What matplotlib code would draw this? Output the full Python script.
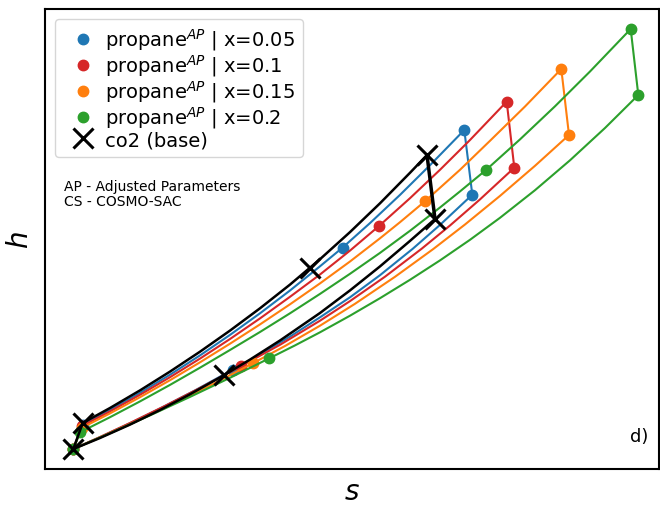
import matplotlib
matplotlib.use("Agg")
import matplotlib.pyplot as plt

# cycle states 1..6 (s, h) and the two isobars of each cycle
# co2 (base)
co2_state_s = [73.3, 82.7, 310.0, 427.0, 435.0, 224.3]
co2_state_h = [50.0, 76.0, 231.3, 344.0, 280.0, 124.0]
co2_up_s = [82.7, 110, 140, 170, 200, 230, 260, 290, 320, 350, 380, 410, 427]
co2_up_h = [76.0, 91.0, 108.6, 127.4, 147.3, 168.4, 190.7, 214.4, 239.8, 266.9, 295.7, 326.2, 344.0]
co2_low_s = [435, 410, 380, 350, 320, 280, 250, 224.3, 190, 160, 130, 100, 73.3]
co2_low_h = [280.0, 258.1, 232.6, 208.6, 186.0, 158.5, 139.4, 124.0, 104.7, 89.0, 74.4, 61.0, 50.0]

# propane AP, x=0.05
p05_state_s = [73.3, 82.5, 342.7, 464.3, 472.3, 233.0]
p05_state_h = [50.0, 74.5, 251.5, 369.0, 304.3, 129.5]
p05_up_s = [82.5, 110, 140, 170, 200, 230, 260, 290, 320, 342.7, 370, 400, 430, 464.3]
p05_up_h = [74.5, 89.1, 106.1, 124.3, 143.6, 164.1, 185.7, 208.5, 232.7, 251.5, 275.9, 304.1, 333.8, 369.0]
p05_low_s = [472.3, 440, 412.7, 380, 350, 320, 290, 260, 233, 195, 160, 130, 100, 73.3]
p05_low_h = [304.3, 274.1, 250.2, 223.8, 201.7, 181.7, 162.4, 144.5, 129.5, 108.6, 90.5, 75.8, 61.8, 50.0]

# propane AP, x=0.1
p10_state_s = [73.3, 82.0, 379.0, 506.7, 514.3, 240.7]
p10_state_h = [50.0, 73.0, 273.0, 397.4, 331.3, 132.7]
p10_up_s = [82, 110, 140, 170, 200, 230, 260, 290, 320, 350, 379, 410, 440, 470, 506.7]
p10_up_h = [73.0, 87.6, 104.2, 121.8, 140.4, 160.0, 180.6, 202.2, 224.5, 248.4, 273.0, 300.8, 329.2, 359.0, 397.4]
p10_low_s = [514.3, 480, 450, 421.7, 385, 350, 320, 280, 240.7, 200, 165, 130, 100, 73.3]
p10_low_h = [331.3, 299.6, 273.5, 250.3, 222.3, 197.9, 178.3, 154.2, 132.7, 111.0, 93.1, 76.0, 62.0, 50.0]

# propane AP, x=0.15
p15_state_s = [73.3, 81.5, 425.3, 561.3, 569.0, 253.3]
p15_state_h = [50.0, 71.0, 298.0, 430.0, 364.0, 136.0]
p15_up_s = [81.5, 110, 140, 170, 200, 230, 260, 290, 320, 350, 380, 400, 425.3, 460, 490, 525, 561.3]
p15_up_h = [71.0, 85.6, 101.8, 118.8, 136.7, 155.3, 174.6, 194.7, 215.6, 237.5, 260.7, 276.8, 298.0,
            329.2, 358.2, 392.5, 430.0]
p15_low_s = [569, 535, 500, 465, 433.3, 395, 355, 320, 285, 253.3, 210, 170, 135, 100, 73.3]
p15_low_h = [364.0, 333.2, 303.1, 274.5, 250.0, 222.2, 195.2, 173.3, 153.0, 136.0, 113.4, 93.6, 77.1,
             61.4, 50.0]

# propane AP, x=0.2
p20_state_s = [73.3, 80.0, 486.0, 630.7, 638.3, 269.3]
p20_state_h = [50.0, 66.7, 329.0, 470.0, 404.0, 140.7]
p20_up_s = [80, 110, 140, 170, 200, 230, 260, 290, 320, 350, 380, 410, 440, 460, 486, 520, 555, 590,
            630.7]
p20_up_h = [66.7, 81.8, 97.6, 114.1, 131.3, 149.0, 167.0, 185.7, 205.1, 225.2, 246.1, 268.2, 291.5,
            307.6, 329.0, 359.6, 392.7, 427.5, 470.0]
p20_low_s = [638.3, 605, 570, 535, 500, 470, 440, 410, 380, 350, 320, 295, 269.3, 230, 190, 150, 110,
             73.3]
p20_low_h = [404.0, 371.0, 338.7, 308.8, 281.2, 259.2, 238.6, 219.2, 200.8, 183.3, 166.7, 153.6, 140.7,
             121.2, 102.1, 83.6, 65.8, 50.0]

fractions = ["0.05", "0.1", "0.15", "0.2"]
colors = ["tab:blue", "tab:red", "tab:orange", "tab:green"]

fig = plt.figure(figsize=(6.6, 5.06), dpi=100)
ax = fig.add_axes([45 / 660, 36 / 506, 614 / 660, 460 / 506])

propane = [
    (p05_state_s, p05_state_h, p05_up_s, p05_up_h, p05_low_s, p05_low_h),
    (p10_state_s, p10_state_h, p10_up_s, p10_up_h, p10_low_s, p10_low_h),
    (p15_state_s, p15_state_h, p15_up_s, p15_up_h, p15_low_s, p15_low_h),
    (p20_state_s, p20_state_h, p20_up_s, p20_up_h, p20_low_s, p20_low_h),
]

for (st_s, st_h, up_s, up_h, low_s, low_h), frac, col in zip(propane, fractions, colors):
    # 1 -> 2, high pressure isobar 2 -> 4, 4 -> 5, low pressure isobar 5 -> 1
    cyc_s = [st_s[0]] + up_s + low_s
    cyc_h = [st_h[0]] + up_h + low_h
    ax.plot(cyc_s, cyc_h, color=col, lw=1.5)
    ax.plot(st_s, st_h, "o", color=col, ms=7.5, ls="none",
            label="propane$^{AP}$ | x=" + frac)

# base fluid on top
ax.plot([co2_state_s[0]] + co2_up_s, [co2_state_h[0]] + co2_up_h, color="black", lw=1.8)
ax.plot(co2_low_s, co2_low_h, color="black", lw=1.8)
ax.plot([co2_state_s[3], co2_state_s[4]], [co2_state_h[3], co2_state_h[4]],
        color="black", lw=2.5)
ax.plot(co2_state_s, co2_state_h, "x", color="black", ms=15, mew=2.2, ls="none",
        label="co2 (base)")

ax.set_xlim(45, 659)
ax.set_ylim(30, 490)
ax.set_xticks([])
ax.set_yticks([])
for sp in ax.spines.values():
    sp.set_linewidth(1.5)

ax.set_xlabel("$s$", fontsize=20, labelpad=6)
ax.set_ylabel("$h$", fontsize=20, labelpad=8)

ax.legend(loc="upper left", fontsize=14, handletextpad=0.1, labelspacing=0.0,
          borderaxespad=0.5, handlelength=2.1, borderpad=0.4)
ax.text(0.031, 0.630, "AP - Adjusted Parameters\nCS - COSMO-SAC", transform=ax.transAxes,
        fontsize=10, va="top", ha="left", linespacing=1.05)
ax.text(0.983, 0.072, "d)", transform=ax.transAxes, fontsize=13, ha="right", va="center")

fig.savefig("out.png", dpi=100)
